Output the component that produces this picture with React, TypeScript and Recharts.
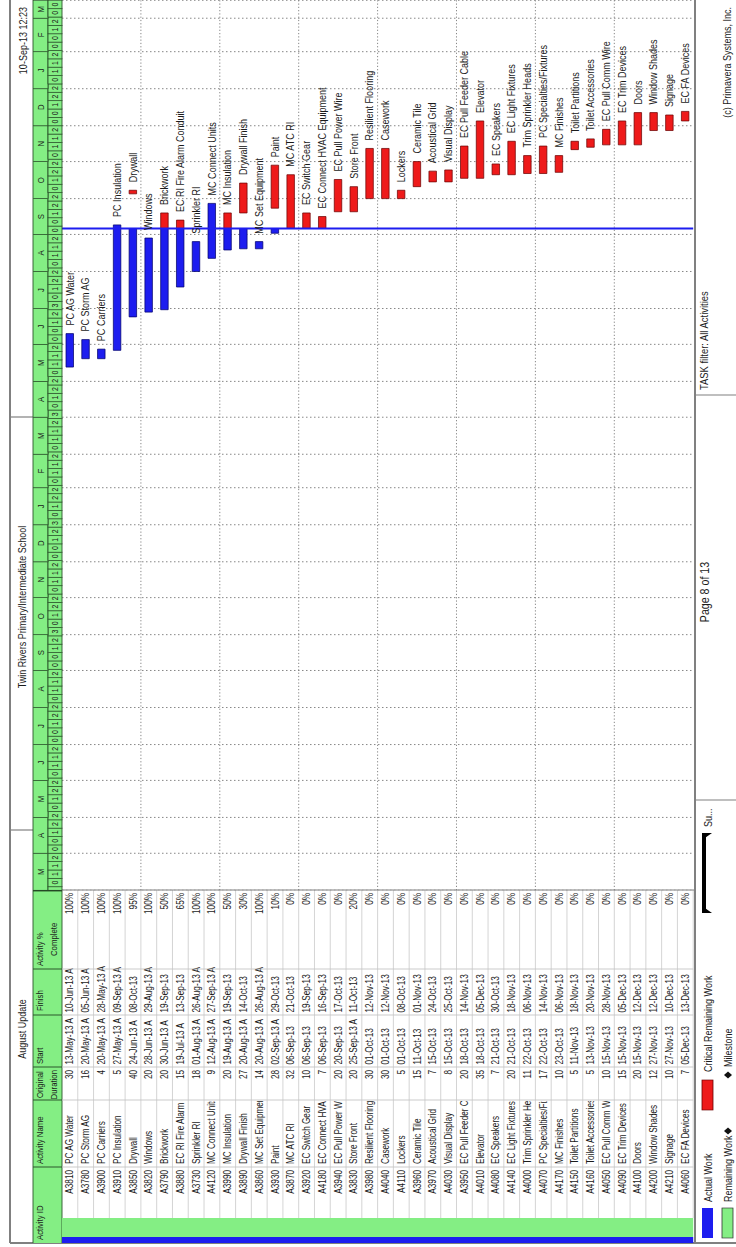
import { BarChart, Bar, XAxis, YAxis, CartesianGrid, ReferenceLine, LabelList } from 'recharts';

// The scanned report lies on its side. Everything is laid out as the landscape
// page and the sheet is then turned a quarter turn anticlockwise.
// The scan is also squeezed along the time direction, hence SX.
const SX = 0.82;
const LONG = 1247;
const SHORT = 736;
const u = (v: number) => v / SX;

const FONT = '"Liberation Sans", Arial, sans-serif';
const INK = '#1b1b1b';
const GREEN = '#84ee84';
const BLUE = '#1d1def';
const RED = '#ee1a1a';
const FRAME = '#808080';
const CELL = '#c4c4c4';
const HEAD_LINE = '#2c562c';

const ids = [
  'A3810', 'A3780', 'A3900', 'A3910', 'A3850', 'A3820', 'A3790', 'A3880', 'A3730', 'A4120',
  'A3990', 'A3890', 'A3860', 'A3930', 'A3870', 'A3920', 'A4180', 'A3940', 'A3830', 'A3980',
  'A4040', 'A4110', 'A3960', 'A3970', 'A4030', 'A3950', 'A4010', 'A4080', 'A4140', 'A4000',
  'A4070', 'A4170', 'A4150', 'A4160', 'A4050', 'A4090', 'A4100', 'A4200', 'A4210', 'A4060',
];
const names = [
  'PC AG Water', 'PC Storm AG', 'PC Carriers', 'PC Insulation', 'Drywall', 'Windows', 'Brickwork',
  'EC RI Fire Alarm Conduit', 'Sprinkler RI', 'MC Connect Units', 'MC Insulation', 'Drywall Finish',
  'MC Set Equipment', 'Paint', 'MC ATC RI', 'EC Switch Gear', 'EC Connect HVAC Equipment',
  'EC Pull Power Wire', 'Store Front', 'Resilient Flooring', 'Casework', 'Lockers', 'Ceramic Tile',
  'Acoustical Grid', 'Visual Display', 'EC Pull Feeder Cable', 'Elevator', 'EC Speakers',
  'EC Light Fixtures', 'Trim Sprinkler Heads', 'PC Specialties/Fixtures', 'MC Finishes',
  'Toilet Partitions', 'Toilet Accessories', 'EC Pull Comm Wire', 'EC Trim Devices', 'Doors',
  'Window Shades', 'Signage', 'EC FA Devices',
];
const durations = [
  30, 16, 4, 5, 40, 20, 20, 15, 18, 9, 20, 27, 14, 28, 32, 10, 7, 20, 20, 30,
  30, 5, 15, 7, 8, 20, 35, 7, 20, 11, 17, 10, 5, 5, 10, 15, 20, 12, 10, 7,
];
const starts = [
  '13-May-13 A', '20-May-13 A', '20-May-13 A', '27-May-13 A', '24-Jun-13 A', '28-Jun-13 A',
  '30-Jun-13 A', '19-Jul-13 A', '01-Aug-13 A', '12-Aug-13 A', '19-Aug-13 A', '20-Aug-13 A',
  '20-Aug-13 A', '02-Sep-13 A', '06-Sep-13', '06-Sep-13', '06-Sep-13', '20-Sep-13',
  '25-Sep-13 A', '01-Oct-13', '01-Oct-13', '01-Oct-13', '11-Oct-13', '15-Oct-13', '15-Oct-13',
  '18-Oct-13', '18-Oct-13', '21-Oct-13', '21-Oct-13', '22-Oct-13', '22-Oct-13', '23-Oct-13',
  '11-Nov-13', '13-Nov-13', '15-Nov-13', '15-Nov-13', '15-Nov-13', '27-Nov-13', '27-Nov-13',
  '05-Dec-13',
];
const finishes = [
  '10-Jun-13 A', '05-Jun-13 A', '28-May-13 A', '09-Sep-13 A', '08-Oct-13', '29-Aug-13 A',
  '19-Sep-13', '13-Sep-13', '26-Aug-13 A', '27-Sep-13 A', '19-Sep-13', '14-Oct-13',
  '26-Aug-13 A', '29-Oct-13', '21-Oct-13', '19-Sep-13', '16-Sep-13', '17-Oct-13', '11-Oct-13',
  '12-Nov-13', '12-Nov-13', '08-Oct-13', '01-Nov-13', '24-Oct-13', '25-Oct-13', '14-Nov-13',
  '05-Dec-13', '30-Oct-13', '18-Nov-13', '06-Nov-13', '14-Nov-13', '06-Nov-13', '18-Nov-13',
  '20-Nov-13', '28-Nov-13', '05-Dec-13', '12-Dec-13', '12-Dec-13', '10-Dec-13', '13-Dec-13',
];
const percents = [
  100, 100, 100, 100, 95, 100, 50, 65, 100, 100, 50, 30, 100, 10, 0, 0, 0, 0, 20, 0,
  0, 0, 0, 0, 0, 0, 0, 0, 0, 0, 0, 0, 0, 0, 0, 0, 0, 0, 0, 0,
];
// remaining bars that do not start at the data date
const remainingFrom: Record<string, string> = {
  A3850: '05-Oct-13',
  A3890: '19-Sep-13',
  A3930: '23-Sep-13',
  A3830: '20-Sep-13',
};
const DATA_DATE = '06-Sep-13';
const AXIS_START = '01-Mar-12';
const AXIS_END = '16-Mar-14';
const FIRST_WEEK = '26-Feb-12';

const monthStarts = [
  '01-Mar-12', '01-Apr-12', '01-May-12', '01-Jun-12', '01-Jul-12', '01-Aug-12', '01-Sep-12',
  '01-Oct-12', '01-Nov-12', '01-Dec-12', '01-Jan-13', '01-Feb-13', '01-Mar-13', '01-Apr-13',
  '01-May-13', '01-Jun-13', '01-Jul-13', '01-Aug-13', '01-Sep-13', '01-Oct-13', '01-Nov-13',
  '01-Dec-13', '01-Jan-14', '01-Feb-14', '01-Mar-14',
];
const monthLetters = ['M', 'A', 'M', 'J', 'J', 'A', 'S', 'O', 'N', 'D', 'J', 'F', 'M', 'A', 'M', 'J', 'J', 'A', 'S', 'O', 'N', 'D', 'J', 'F', 'M'];

const MON: Record<string, number> = { Jan: 0, Feb: 1, Mar: 2, Apr: 3, May: 4, Jun: 5, Jul: 6, Aug: 7, Sep: 8, Oct: 9, Nov: 10, Dec: 11 };
const toUTC = (s: string) => {
  const [d, m, y] = s.slice(0, 9).split('-');
  return Date.UTC(2000 + Number(y), MON[m], Number(d));
};
const T0 = toUTC(AXIS_START);
const DAY_MS = 86400000;
const day = (s: string) => Math.round((toUTC(s) - T0) / DAY_MS);

const DD = day(DATA_DATE);
const END = day(AXIS_END);
const monthDays = monthStarts.map(day);
const weekStarts: number[] = [];
for (let w = day(FIRST_WEEK); w < END; w += 7) weekStarts.push(w);
const weekDigit = (w: number) => String(new Date(T0 + w * DAY_MS).getUTCDate()).padStart(2, '0')[0];

const rows = ids.map((id, i) => {
  const s = day(starts[i]);
  const f = day(finishes[i]);
  const fDone = finishes[i].endsWith(' A');
  const actual = starts[i].endsWith(' A') && s <= DD ? [s, fDone ? f : DD] : null;
  const remaining = fDone ? null : [remainingFrom[id] ? day(remainingFrom[id]) : Math.max(s, DD), f];
  const parts = [actual, remaining].filter(Boolean) as number[][];
  const span = [Math.min(...parts.map((p) => p[0])), Math.max(...parts.map((p) => p[1]))];
  return { id, name: names[i], actual, remaining, span };
});

// page layout, in picture pixels along the sheet
const TABLE_RIGHT = 357;
const CHART_TOP = 33;
const CHART_H = 662;
const HEAD_H = 29;
const BOTTOM_PAD = 1.8;
const ROW_TOP = CHART_TOP + HEAD_H;
const ROW_H = (CHART_H - HEAD_H - BOTTOM_PAD) / ids.length;
const CHART_W = u(LONG - TABLE_RIGHT);
const PX_PER_DAY = CHART_W / END;
const BAR = 7.5;
const ROW_FONT = 10;
const colLines = [80, 147, 180, 232, 278];

const HeaderTick = (props: any) => {
  const { x, payload } = props;
  const i = monthDays.indexOf(payload.value);
  const from = payload.value;
  const next = i + 1 < monthDays.length ? monthDays[i + 1] : END + 60;
  const w = (Math.min(next, END) - from) * PX_PER_DAY;
  const weeks = weekStarts.filter((ws) => ws < next && (i === 0 || ws >= from));
  return (
    <g>
      <rect x={x} y={0} width={w} height={15} fill={GREEN} stroke={HEAD_LINE} strokeWidth={0.9} />
      <text x={x + w / 2} y={11} textAnchor="middle" fontSize={9.5} fill={INK} fontFamily={FONT}>
        {monthLetters[i]}
      </text>
      {weeks.map((ws) => {
        const a = Math.max(ws, 0);
        const b = Math.min(ws + 7, END);
        const wx = x + (a - from) * PX_PER_DAY;
        const ww = (b - a) * PX_PER_DAY;
        return (
          <g key={ws}>
            <rect x={wx} y={15} width={ww} height={HEAD_H - 15} fill={GREEN} stroke={HEAD_LINE} strokeWidth={0.9} />
            {ww > 6 && (
              <text x={wx + ww / 2} y={25.5} textAnchor="middle" fontSize={8.5} fill={INK} fontFamily={FONT}>
                {weekDigit(ws)}
              </text>
            )}
          </g>
        );
      })}
    </g>
  );
};

const NameLabel = (p: any) => (
  <text x={p.x + p.width + u(8)} y={p.y + p.height / 2} dy={3.8} fontSize={11} fill={INK} fontFamily={FONT}>
    {p.value}
  </text>
);

function Sheet() {
  const vLine = (xp: number, y1: number, y2: number, stroke: string, w: number, key?: string) => (
    <line key={key} x1={u(xp)} x2={u(xp)} y1={y1} y2={y2} stroke={stroke} strokeWidth={w / SX} />
  );
  const hLine = (yp: number, x1: number, x2: number, stroke: string, w: number, key?: string) => (
    <line key={key} x1={u(x1)} x2={u(x2)} y1={yp} y2={yp} stroke={stroke} strokeWidth={w} />
  );
  const txt = (s: string, xp: number, yp: number, size: number, anchor = 'start', key?: string) => (
    <text key={key} x={u(xp)} y={yp} fontSize={size} textAnchor={anchor} fill={INK} fontFamily={FONT}>
      {s}
    </text>
  );
  const diamond = (xp: number, yp: number) => (
    <polygon points={`${u(xp)},${yp - 4} ${u(xp + 3.5)},${yp} ${u(xp)},${yp + 4} ${u(xp - 3.5)},${yp}`} fill="#111" />
  );
  const rowEnd = ROW_TOP + ROW_H * ids.length;

  return (
    <svg width={u(LONG)} height={SHORT} style={{ position: 'absolute', left: 0, top: 0 }}>
      <defs>
        <clipPath id="nameCol">
          <rect x={u(81)} y={ROW_TOP} width={u(147 - 82)} height={rowEnd - ROW_TOP} />
        </clipPath>
      </defs>

      {/* title strip */}
      {hLine(10, 4, LONG, FRAME, 2)}
      {vLine(4, 10, SHORT, FRAME, 2)}
      {vLine(417, 10, CHART_TOP, FRAME, 1.2)}
      {vLine(830, 10, CHART_TOP, FRAME, 1.2)}
      {txt('August Update', 218, 26, 11, 'middle')}
      {txt('Twin Rivers Primary/Intermediate School', 640, 26, 11, 'middle')}
      {txt('10-Sep-13 12:23', 1240, 27, 11, 'end')}

      {/* table header */}
      <rect x={u(4)} y={CHART_TOP} width={u(TABLE_RIGHT - 4)} height={HEAD_H} fill={GREEN} />
      {hLine(CHART_TOP, 4, LONG, HEAD_LINE, 1)}
      {hLine(ROW_TOP, 4, TABLE_RIGHT, HEAD_LINE, 1)}
      {colLines.map((c) => vLine(c, CHART_TOP, ROW_TOP, HEAD_LINE, 1, 'h' + c))}
      {vLine(356.5, CHART_TOP, ROW_TOP, '#1e3a1e', 1.8)}
      {txt('Activity ID', 7, 43, 9.5)}
      {txt('Activity Name', 83, 43, 9.5)}
      {txt('Original', 149, 43, 9.5)}
      {txt('Duration', 177, 57, 9.5, 'end')}
      {txt('Start', 183, 43, 9.5)}
      {txt('Finish', 236, 43, 9.5)}
      {txt('Activity %', 281, 43, 9.5)}
      {txt('Complete', 291, 57, 9.5)}

      {/* group bands */}
      <rect x={u(4)} y={ROW_TOP} width={u(6)} height={rowEnd - ROW_TOP} fill={BLUE} />
      <rect x={u(10)} y={ROW_TOP} width={u(19)} height={rowEnd - ROW_TOP} fill={GREEN} />

      {/* rows */}
      {ids.map((id, i) => {
        const top = ROW_TOP + ROW_H * i;
        const base = top + ROW_H / 2 + 3.5;
        return (
          <g key={id}>
            {hLine(top + ROW_H, 29, TABLE_RIGHT, CELL, 0.8)}
            {txt(id, 77, base, ROW_FONT, 'end')}
            <g clipPath="url(#nameCol)">{txt(names[i], 83, base, ROW_FONT)}</g>
            {txt(String(durations[i]), 177, base, ROW_FONT, 'end')}
            {txt(starts[i], 182.5, base, ROW_FONT)}
            {txt(finishes[i], 234.5, base, ROW_FONT)}
            {txt(percents[i] + '%', 354, base, ROW_FONT, 'end')}
          </g>
        );
      })}
      {colLines.map((c) => vLine(c, ROW_TOP, rowEnd, CELL, 0.8, 'r' + c))}
      {vLine(TABLE_RIGHT, ROW_TOP, CHART_TOP + CHART_H, FRAME, 1)}

      {/* footer */}
      {hLine(CHART_TOP + CHART_H, 4, LONG, FRAME, 2)}
      {vLine(447, CHART_TOP + CHART_H, SHORT, FRAME, 1.2)}
      {vLine(852, CHART_TOP + CHART_H, SHORT, FRAME, 1.2)}
      <rect x={u(9)} y={702} width={u(30)} height={11} fill={BLUE} />
      {txt('Actual Work', 45, 712, 11)}
      <rect x={u(9)} y={722} width={u(30)} height={11} fill={GREEN} stroke="#333" strokeWidth={0.8} />
      {txt('Remaining Work', 45, 732, 11)}
      {diamond(116, 728)}
      <rect x={u(137)} y={702} width={u(30)} height={11} fill={RED} stroke="#6a0000" strokeWidth={0.8} />
      {txt('Critical Remaining Work', 175, 712, 11)}
      {diamond(172, 728)}
      {txt('Milestone', 180, 732, 11)}
      <rect x={u(334)} y={702} width={u(80)} height={4} fill="#000" />
      <polygon points={`${u(334)},702 ${u(341)},702 ${u(334)},712`} fill="#000" />
      <polygon points={`${u(414)},702 ${u(407)},702 ${u(414)},712`} fill="#000" />
      {txt('Su...', 420, 712, 11)}
      {txt('Page 8 of 13', 655, 709, 13, 'middle')}
      {txt('TASK filter: All Activities', 857, 708, 11.5)}
      {txt('(c) Primavera Systems, Inc.', 1240, 731, 11, 'end')}
    </svg>
  );
}

export default function App() {
  return (
    <div style={{ position: 'absolute', left: 0, top: 0, width: SHORT, height: LONG, overflow: 'hidden', background: '#fff' }}>
      <div
        style={{
          position: 'absolute',
          left: 0,
          top: 0,
          width: u(LONG),
          height: SHORT,
          transformOrigin: '0 0',
          transform: `translateY(${LONG}px) rotate(-90deg) scaleX(${SX})`,
          fontFamily: FONT,
        }}
      >
        <Sheet />
        <div style={{ position: 'absolute', left: u(TABLE_RIGHT), top: CHART_TOP }}>
          <BarChart
            width={CHART_W}
            height={CHART_H}
            data={rows}
            layout="vertical"
            margin={{ top: 0, right: 0, bottom: BOTTOM_PAD, left: 0 }}
            barGap={-BAR}
          >
            <CartesianGrid
              stroke="#7a7a7a"
              strokeDasharray="1.5 2.5"
              horizontalCoordinatesGenerator={() =>
                [5, 10, 15, 20, 25, 30, 35].map((k) => HEAD_H + ROW_H * k)
              }
            />
            <XAxis
              type="number"
              orientation="top"
              height={HEAD_H}
              domain={[0, END]}
              allowDataOverflow
              ticks={monthDays}
              interval={0}
              tick={HeaderTick}
              tickLine={false}
              axisLine={false}
            />
            <YAxis type="category" dataKey="id" hide />
            <Bar dataKey="actual" fill={BLUE} stroke="#00006a" strokeWidth={0.8} barSize={BAR} isAnimationActive={false} />
            <Bar dataKey="remaining" fill={RED} stroke="#6a0000" strokeWidth={0.8} barSize={BAR} isAnimationActive={false} />
            <Bar dataKey="span" fill="transparent" barSize={BAR} isAnimationActive={false}>
              <LabelList dataKey="name" content={NameLabel} />
            </Bar>
            <ReferenceLine x={DD} stroke={BLUE} strokeWidth={u(2.2)} />
          </BarChart>
        </div>
      </div>
    </div>
  );
}
